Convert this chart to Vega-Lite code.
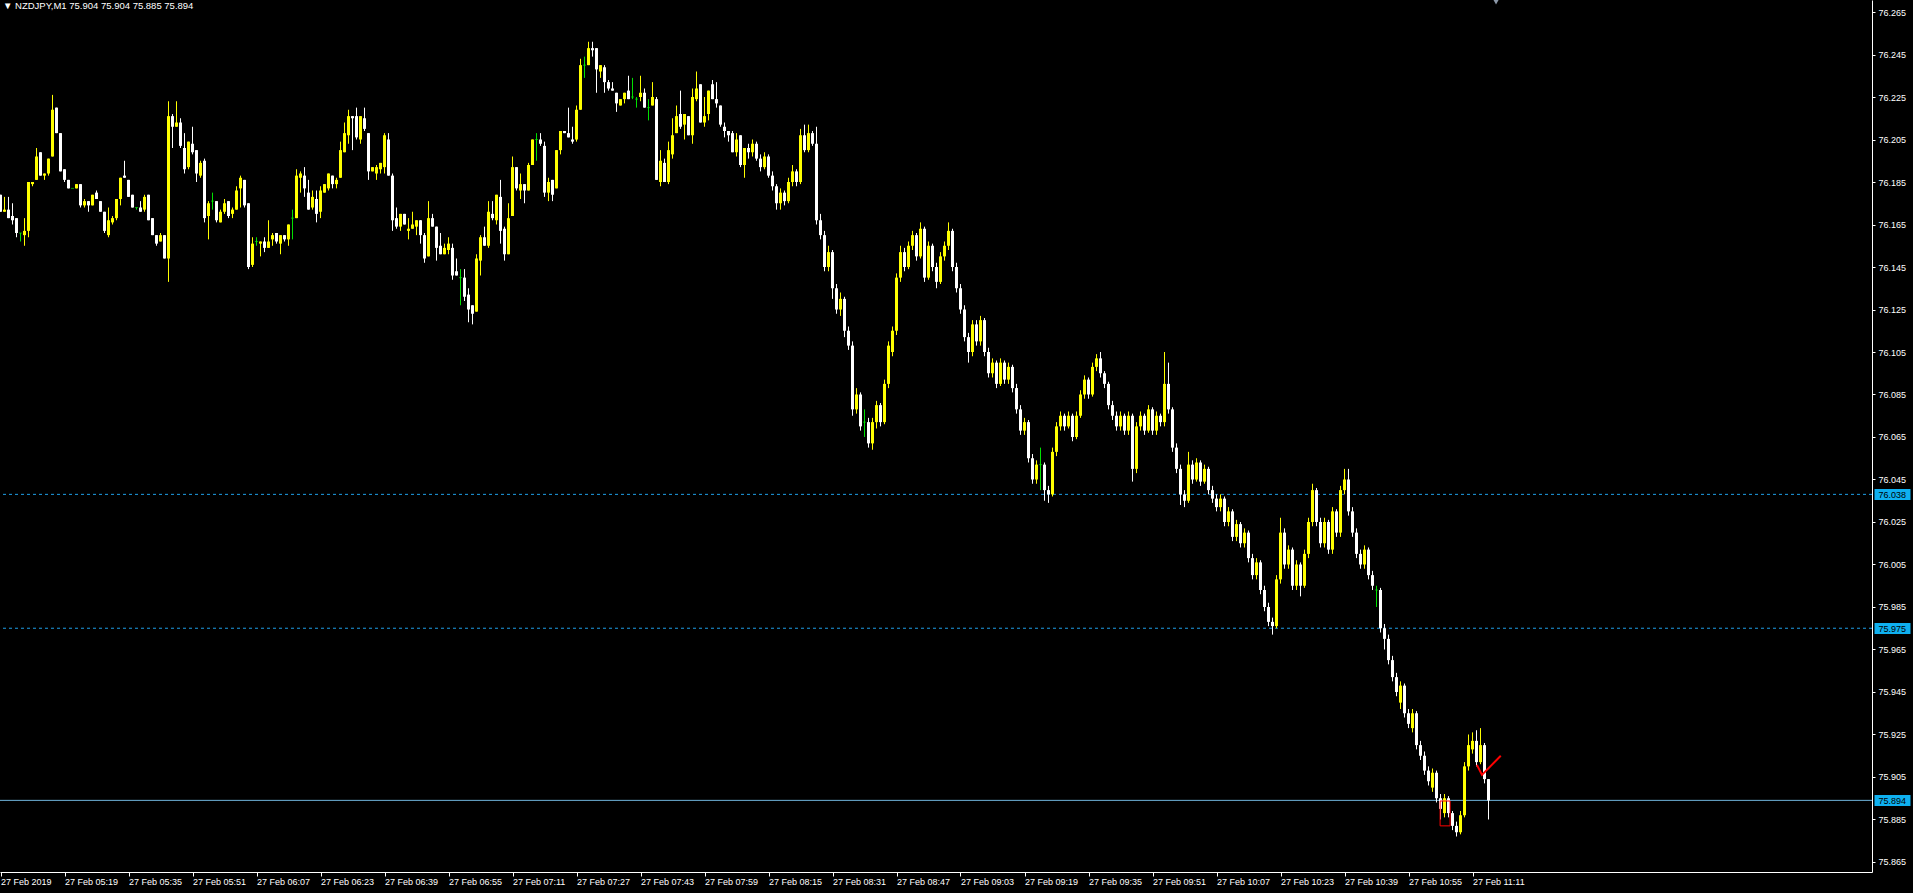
{
"$schema": "https://vega.github.io/schema/vega-lite/v6.json",
"width": 1872, "height": 872,
"autosize": {"type": "none"},
"padding": {"left": 0, "top": 0, "right": 41, "bottom": 21},
"background": "#000000",
"config": {"view": {"stroke": null, "fill": "#000000"}, "font": "Liberation Sans"},
"title": {"text": "▼ NZDJPY,M1  75.904 75.904 75.885 75.894", "anchor": "start", "frame": "group", "offset": -11, "dx": 3, "fontSize": 9.5, "fontWeight": "normal", "color": "#FFFFFF", "font": "Liberation Sans"},
"datasets": {
"levels": [{"p": 76.038, "style": "dash"}, {"p": 75.975, "style": "dash"}, {"p": 75.894, "style": "solid"}],
"box": [{"t": "11:02:54", "t2": "11:05:24", "p": 75.8937, "p2": 75.882}],
"check": [{"t": "11:12:06", "p": 75.9107, "k": 0}, {"t": "11:13:22", "p": 75.906, "k": 1}, {"t": "11:18:04", "p": 75.915, "k": 2}],
"marker": [{"t": "11:16:53", "p": 76.2697}],
"bars": [
{"t":"05:03","o":76.179,"h":76.179,"l":76.171,"c":76.171},
{"t":"05:04","o":76.171,"h":76.178,"l":76.171,"c":76.172},
{"t":"05:05","o":76.172,"h":76.178,"l":76.168,"c":76.168},
{"t":"05:06","o":76.169,"h":76.175,"l":76.165,"c":76.167},
{"t":"05:07","o":76.168,"h":76.168,"l":76.159,"c":76.161},
{"t":"05:08","o":76.161,"h":76.161,"l":76.157,"c":76.161},
{"t":"05:09","o":76.160,"h":76.168,"l":76.155,"c":76.162},
{"t":"05:10","o":76.162,"h":76.185,"l":76.159,"c":76.185},
{"t":"05:11","o":76.184,"h":76.185,"l":76.183,"c":76.185},
{"t":"05:12","o":76.186,"h":76.201,"l":76.186,"c":76.197},
{"t":"05:13","o":76.199,"h":76.199,"l":76.188,"c":76.188},
{"t":"05:14","o":76.188,"h":76.189,"l":76.186,"c":76.189},
{"t":"05:15","o":76.189,"h":76.196,"l":76.188,"c":76.196},
{"t":"05:16","o":76.197,"h":76.226,"l":76.197,"c":76.219},
{"t":"05:17","o":76.220,"h":76.220,"l":76.208,"c":76.208},
{"t":"05:18","o":76.208,"h":76.208,"l":76.190,"c":76.190},
{"t":"05:19","o":76.191,"h":76.191,"l":76.185,"c":76.186},
{"t":"05:20","o":76.186,"h":76.186,"l":76.182,"c":76.182},
{"t":"05:21","o":76.182,"h":76.182,"l":76.182,"c":76.182},
{"t":"05:22","o":76.182,"h":76.184,"l":76.182,"c":76.184},
{"t":"05:23","o":76.184,"h":76.184,"l":76.173,"c":76.174},
{"t":"05:24","o":76.174,"h":76.177,"l":76.173,"c":76.176},
{"t":"05:25","o":76.176,"h":76.176,"l":76.171,"c":76.174},
{"t":"05:26","o":76.174,"h":76.179,"l":76.174,"c":76.179},
{"t":"05:27","o":76.180,"h":76.181,"l":76.177,"c":76.177},
{"t":"05:28","o":76.176,"h":76.176,"l":76.171,"c":76.171},
{"t":"05:29","o":76.171,"h":76.171,"l":76.161,"c":76.162},
{"t":"05:30","o":76.160,"h":76.173,"l":76.159,"c":76.167},
{"t":"05:31","o":76.166,"h":76.169,"l":76.165,"c":76.168},
{"t":"05:32","o":76.168,"h":76.177,"l":76.167,"c":76.177},
{"t":"05:33","o":76.177,"h":76.187,"l":76.174,"c":76.187},
{"t":"05:34","o":76.188,"h":76.195,"l":76.187,"c":76.187},
{"t":"05:35","o":76.186,"h":76.186,"l":76.178,"c":76.178},
{"t":"05:36","o":76.179,"h":76.179,"l":76.173,"c":76.173},
{"t":"05:37","o":76.173,"h":76.173,"l":76.172,"c":76.173},
{"t":"05:38","o":76.173,"h":76.176,"l":76.171,"c":76.171},
{"t":"05:39","o":76.172,"h":76.179,"l":76.171,"c":76.178},
{"t":"05:40","o":76.179,"h":76.179,"l":76.167,"c":76.167},
{"t":"05:41","o":76.168,"h":76.168,"l":76.160,"c":76.160},
{"t":"05:42","o":76.160,"h":76.160,"l":76.155,"c":76.156},
{"t":"05:43","o":76.157,"h":76.161,"l":76.157,"c":76.160},
{"t":"05:44","o":76.160,"h":76.160,"l":76.149,"c":76.149},
{"t":"05:45","o":76.149,"h":76.223,"l":76.138,"c":76.216},
{"t":"05:46","o":76.216,"h":76.217,"l":76.201,"c":76.211},
{"t":"05:47","o":76.211,"h":76.223,"l":76.211,"c":76.213},
{"t":"05:48","o":76.213,"h":76.215,"l":76.201,"c":76.202},
{"t":"05:49","o":76.201,"h":76.208,"l":76.189,"c":76.191},
{"t":"05:50","o":76.192,"h":76.204,"l":76.191,"c":76.204},
{"t":"05:51","o":76.203,"h":76.211,"l":76.198,"c":76.199},
{"t":"05:52","o":76.200,"h":76.200,"l":76.185,"c":76.189},
{"t":"05:53","o":76.188,"h":76.195,"l":76.187,"c":76.194},
{"t":"05:54","o":76.195,"h":76.196,"l":76.166,"c":76.168},
{"t":"05:55","o":76.169,"h":76.176,"l":76.158,"c":76.175},
{"t":"05:56","o":76.176,"h":76.180,"l":76.172,"c":76.176},
{"t":"05:57","o":76.176,"h":76.176,"l":76.166,"c":76.167},
{"t":"05:58","o":76.166,"h":76.172,"l":76.166,"c":76.171},
{"t":"05:59","o":76.171,"h":76.177,"l":76.170,"c":76.175},
{"t":"06:00","o":76.176,"h":76.176,"l":76.168,"c":76.169},
{"t":"06:01","o":76.170,"h":76.173,"l":76.168,"c":76.172},
{"t":"06:02","o":76.172,"h":76.183,"l":76.172,"c":76.181},
{"t":"06:03","o":76.182,"h":76.188,"l":76.173,"c":76.187},
{"t":"06:04","o":76.186,"h":76.186,"l":76.173,"c":76.174},
{"t":"06:05","o":76.175,"h":76.175,"l":76.144,"c":76.145},
{"t":"06:06","o":76.146,"h":76.159,"l":76.145,"c":76.156},
{"t":"06:07","o":76.157,"h":76.159,"l":76.155,"c":76.157},
{"t":"06:08","o":76.156,"h":76.157,"l":76.150,"c":76.157},
{"t":"06:09","o":76.157,"h":76.159,"l":76.152,"c":76.154},
{"t":"06:10","o":76.154,"h":76.167,"l":76.154,"c":76.157},
{"t":"06:11","o":76.158,"h":76.161,"l":76.155,"c":76.160},
{"t":"06:12","o":76.161,"h":76.161,"l":76.156,"c":76.157},
{"t":"06:13","o":76.156,"h":76.160,"l":76.151,"c":76.160},
{"t":"06:14","o":76.160,"h":76.160,"l":76.157,"c":76.158},
{"t":"06:15","o":76.158,"h":76.165,"l":76.155,"c":76.165},
{"t":"06:16","o":76.168,"h":76.172,"l":76.158,"c":76.168},
{"t":"06:17","o":76.168,"h":76.191,"l":76.168,"c":76.188},
{"t":"06:18","o":76.187,"h":76.190,"l":76.180,"c":76.189},
{"t":"06:19","o":76.188,"h":76.192,"l":76.178,"c":76.182},
{"t":"06:20","o":76.180,"h":76.186,"l":76.172,"c":76.172},
{"t":"06:21","o":76.173,"h":76.181,"l":76.172,"c":76.178},
{"t":"06:22","o":76.177,"h":76.181,"l":76.166,"c":76.170},
{"t":"06:23","o":76.171,"h":76.183,"l":76.168,"c":76.181},
{"t":"06:24","o":76.180,"h":76.184,"l":76.180,"c":76.184},
{"t":"06:25","o":76.182,"h":76.189,"l":76.181,"c":76.189},
{"t":"06:26","o":76.188,"h":76.188,"l":76.182,"c":76.184},
{"t":"06:27","o":76.184,"h":76.187,"l":76.182,"c":76.186},
{"t":"06:28","o":76.187,"h":76.204,"l":76.187,"c":76.200},
{"t":"06:29","o":76.199,"h":76.213,"l":76.199,"c":76.208},
{"t":"06:30","o":76.207,"h":76.219,"l":76.203,"c":76.216},
{"t":"06:31","o":76.216,"h":76.216,"l":76.200,"c":76.215},
{"t":"06:32","o":76.216,"h":76.220,"l":76.205,"c":76.206},
{"t":"06:33","o":76.205,"h":76.216,"l":76.203,"c":76.216},
{"t":"06:34","o":76.215,"h":76.220,"l":76.209,"c":76.210},
{"t":"06:35","o":76.208,"h":76.208,"l":76.186,"c":76.190},
{"t":"06:36","o":76.190,"h":76.192,"l":76.190,"c":76.192},
{"t":"06:37","o":76.189,"h":76.193,"l":76.186,"c":76.192},
{"t":"06:38","o":76.191,"h":76.194,"l":76.189,"c":76.194},
{"t":"06:39","o":76.192,"h":76.208,"l":76.189,"c":76.207},
{"t":"06:40","o":76.205,"h":76.208,"l":76.188,"c":76.188},
{"t":"06:41","o":76.188,"h":76.189,"l":76.162,"c":76.167},
{"t":"06:42","o":76.168,"h":76.173,"l":76.163,"c":76.164},
{"t":"06:43","o":76.164,"h":76.170,"l":76.162,"c":76.170},
{"t":"06:44","o":76.170,"h":76.170,"l":76.165,"c":76.165},
{"t":"06:45","o":76.162,"h":76.168,"l":76.158,"c":76.163},
{"t":"06:46","o":76.163,"h":76.171,"l":76.163,"c":76.165},
{"t":"06:47","o":76.164,"h":76.167,"l":76.160,"c":76.167},
{"t":"06:48","o":76.167,"h":76.167,"l":76.156,"c":76.160},
{"t":"06:49","o":76.160,"h":76.161,"l":76.147,"c":76.149},
{"t":"06:50","o":76.150,"h":76.176,"l":76.150,"c":76.168},
{"t":"06:51","o":76.168,"h":76.170,"l":76.164,"c":76.164},
{"t":"06:52","o":76.164,"h":76.164,"l":76.148,"c":76.154},
{"t":"06:53","o":76.155,"h":76.161,"l":76.151,"c":76.151},
{"t":"06:54","o":76.151,"h":76.156,"l":76.151,"c":76.154},
{"t":"06:55","o":76.153,"h":76.159,"l":76.151,"c":76.156},
{"t":"06:56","o":76.154,"h":76.156,"l":76.139,"c":76.141},
{"t":"06:57","o":76.143,"h":76.149,"l":76.141,"c":76.141},
{"t":"06:58","o":76.140,"h":76.144,"l":76.127,"c":76.140},
{"t":"06:59","o":76.140,"h":76.144,"l":76.129,"c":76.131},
{"t":"07:00","o":76.132,"h":76.135,"l":76.119,"c":76.125},
{"t":"07:01","o":76.127,"h":76.127,"l":76.118,"c":76.123},
{"t":"07:02","o":76.124,"h":76.151,"l":76.124,"c":76.149},
{"t":"07:03","o":76.148,"h":76.160,"l":76.141,"c":76.159},
{"t":"07:04","o":76.159,"h":76.164,"l":76.155,"c":76.155},
{"t":"07:05","o":76.155,"h":76.176,"l":76.154,"c":76.171},
{"t":"07:06","o":76.170,"h":76.176,"l":76.167,"c":76.168},
{"t":"07:07","o":76.167,"h":76.179,"l":76.165,"c":76.179},
{"t":"07:08","o":76.178,"h":76.186,"l":76.156,"c":76.162},
{"t":"07:09","o":76.163,"h":76.164,"l":76.148,"c":76.151},
{"t":"07:10","o":76.151,"h":76.175,"l":76.151,"c":76.168},
{"t":"07:11","o":76.169,"h":76.197,"l":76.169,"c":76.192},
{"t":"07:12","o":76.192,"h":76.192,"l":76.181,"c":76.182},
{"t":"07:13","o":76.181,"h":76.189,"l":76.177,"c":76.184},
{"t":"07:14","o":76.184,"h":76.184,"l":76.175,"c":76.181},
{"t":"07:15","o":76.181,"h":76.194,"l":76.181,"c":76.193},
{"t":"07:16","o":76.193,"h":76.205,"l":76.193,"c":76.205},
{"t":"07:17","o":76.205,"h":76.208,"l":76.195,"c":76.205},
{"t":"07:18","o":76.205,"h":76.208,"l":76.202,"c":76.203},
{"t":"07:19","o":76.202,"h":76.204,"l":76.178,"c":76.180},
{"t":"07:20","o":76.180,"h":76.187,"l":76.176,"c":76.185},
{"t":"07:21","o":76.186,"h":76.186,"l":76.176,"c":76.179},
{"t":"07:22","o":76.182,"h":76.200,"l":76.182,"c":76.200},
{"t":"07:23","o":76.200,"h":76.209,"l":76.198,"c":76.209},
{"t":"07:24","o":76.209,"h":76.209,"l":76.208,"c":76.208},
{"t":"07:25","o":76.208,"h":76.220,"l":76.206,"c":76.206},
{"t":"07:26","o":76.205,"h":76.211,"l":76.203,"c":76.204},
{"t":"07:27","o":76.205,"h":76.221,"l":76.204,"c":76.219},
{"t":"07:28","o":76.219,"h":76.243,"l":76.219,"c":76.240},
{"t":"07:29","o":76.240,"h":76.244,"l":76.234,"c":76.240},
{"t":"07:30","o":76.240,"h":76.251,"l":76.240,"c":76.248},
{"t":"07:31","o":76.248,"h":76.251,"l":76.244,"c":76.247},
{"t":"07:32","o":76.248,"h":76.248,"l":76.227,"c":76.238},
{"t":"07:33","o":76.237,"h":76.240,"l":76.234,"c":76.240},
{"t":"07:34","o":76.239,"h":76.240,"l":76.227,"c":76.232},
{"t":"07:35","o":76.232,"h":76.233,"l":76.228,"c":76.229},
{"t":"07:36","o":76.229,"h":76.232,"l":76.228,"c":76.228},
{"t":"07:37","o":76.227,"h":76.227,"l":76.218,"c":76.222},
{"t":"07:38","o":76.221,"h":76.224,"l":76.221,"c":76.224},
{"t":"07:39","o":76.224,"h":76.227,"l":76.222,"c":76.227},
{"t":"07:40","o":76.228,"h":76.235,"l":76.224,"c":76.224},
{"t":"07:41","o":76.225,"h":76.234,"l":76.224,"c":76.225},
{"t":"07:42","o":76.224,"h":76.225,"l":76.220,"c":76.224},
{"t":"07:43","o":76.225,"h":76.235,"l":76.223,"c":76.227},
{"t":"07:44","o":76.227,"h":76.229,"l":76.220,"c":76.220},
{"t":"07:45","o":76.220,"h":76.224,"l":76.214,"c":76.220},
{"t":"07:46","o":76.221,"h":76.232,"l":76.221,"c":76.225},
{"t":"07:47","o":76.224,"h":76.225,"l":76.186,"c":76.186},
{"t":"07:48","o":76.185,"h":76.200,"l":76.183,"c":76.195},
{"t":"07:49","o":76.194,"h":76.196,"l":76.185,"c":76.185},
{"t":"07:50","o":76.185,"h":76.204,"l":76.184,"c":76.200},
{"t":"07:51","o":76.198,"h":76.215,"l":76.196,"c":76.207},
{"t":"07:52","o":76.208,"h":76.221,"l":76.208,"c":76.216},
{"t":"07:53","o":76.217,"h":76.228,"l":76.210,"c":76.211},
{"t":"07:54","o":76.212,"h":76.217,"l":76.205,"c":76.217},
{"t":"07:55","o":76.216,"h":76.216,"l":76.207,"c":76.207},
{"t":"07:56","o":76.207,"h":76.229,"l":76.203,"c":76.225},
{"t":"07:57","o":76.224,"h":76.237,"l":76.223,"c":76.229},
{"t":"07:58","o":76.231,"h":76.231,"l":76.213,"c":76.213},
{"t":"07:59","o":76.213,"h":76.225,"l":76.211,"c":76.216},
{"t":"08:00","o":76.217,"h":76.228,"l":76.214,"c":76.228},
{"t":"08:01","o":76.231,"h":76.233,"l":76.224,"c":76.224},
{"t":"08:02","o":76.224,"h":76.232,"l":76.220,"c":76.222},
{"t":"08:03","o":76.221,"h":76.221,"l":76.211,"c":76.212},
{"t":"08:04","o":76.211,"h":76.213,"l":76.206,"c":76.209},
{"t":"08:05","o":76.209,"h":76.209,"l":76.204,"c":76.207},
{"t":"08:06","o":76.208,"h":76.209,"l":76.199,"c":76.199},
{"t":"08:07","o":76.199,"h":76.208,"l":76.197,"c":76.205},
{"t":"08:08","o":76.207,"h":76.207,"l":76.192,"c":76.193},
{"t":"08:09","o":76.193,"h":76.201,"l":76.187,"c":76.201},
{"t":"08:10","o":76.201,"h":76.203,"l":76.196,"c":76.199},
{"t":"08:11","o":76.199,"h":76.205,"l":76.197,"c":76.203},
{"t":"08:12","o":76.203,"h":76.204,"l":76.195,"c":76.196},
{"t":"08:13","o":76.196,"h":76.198,"l":76.190,"c":76.192},
{"t":"08:14","o":76.192,"h":76.199,"l":76.191,"c":76.197},
{"t":"08:15","o":76.197,"h":76.198,"l":76.187,"c":76.188},
{"t":"08:16","o":76.188,"h":76.190,"l":76.181,"c":76.183},
{"t":"08:17","o":76.183,"h":76.184,"l":76.172,"c":76.175},
{"t":"08:18","o":76.175,"h":76.182,"l":76.172,"c":76.180},
{"t":"08:19","o":76.180,"h":76.181,"l":76.174,"c":76.176},
{"t":"08:20","o":76.176,"h":76.187,"l":76.175,"c":76.185},
{"t":"08:21","o":76.185,"h":76.193,"l":76.183,"c":76.190},
{"t":"08:22","o":76.190,"h":76.191,"l":76.183,"c":76.185},
{"t":"08:23","o":76.185,"h":76.210,"l":76.184,"c":76.207},
{"t":"08:24","o":76.207,"h":76.212,"l":76.199,"c":76.200},
{"t":"08:25","o":76.200,"h":76.212,"l":76.199,"c":76.208},
{"t":"08:26","o":76.208,"h":76.209,"l":76.202,"c":76.203},
{"t":"08:27","o":76.203,"h":76.211,"l":76.165,"c":76.167},
{"t":"08:28","o":76.167,"h":76.170,"l":76.158,"c":76.160},
{"t":"08:29","o":76.160,"h":76.162,"l":76.143,"c":76.145},
{"t":"08:30","o":76.145,"h":76.155,"l":76.143,"c":76.152},
{"t":"08:31","o":76.152,"h":76.153,"l":76.130,"c":76.135},
{"t":"08:32","o":76.135,"h":76.137,"l":76.123,"c":76.125},
{"t":"08:33","o":76.125,"h":76.133,"l":76.122,"c":76.130},
{"t":"08:34","o":76.130,"h":76.131,"l":76.112,"c":76.115},
{"t":"08:35","o":76.115,"h":76.117,"l":76.106,"c":76.108},
{"t":"08:36","o":76.108,"h":76.110,"l":76.075,"c":76.078},
{"t":"08:37","o":76.078,"h":76.088,"l":76.076,"c":76.085},
{"t":"08:38","o":76.085,"h":76.086,"l":76.068,"c":76.070},
{"t":"08:39","o":76.072,"h":76.078,"l":76.065,"c":76.072},
{"t":"08:40","o":76.072,"h":76.074,"l":76.060,"c":76.062},
{"t":"08:41","o":76.062,"h":76.074,"l":76.059,"c":76.072},
{"t":"08:42","o":76.072,"h":76.082,"l":76.069,"c":76.080},
{"t":"08:43","o":76.080,"h":76.081,"l":76.070,"c":76.072},
{"t":"08:44","o":76.072,"h":76.092,"l":76.071,"c":76.090},
{"t":"08:45","o":76.090,"h":76.110,"l":76.088,"c":76.108},
{"t":"08:46","o":76.105,"h":76.117,"l":76.103,"c":76.115},
{"t":"08:47","o":76.115,"h":76.142,"l":76.113,"c":76.140},
{"t":"08:48","o":76.140,"h":76.155,"l":76.138,"c":76.152},
{"t":"08:49","o":76.152,"h":76.154,"l":76.143,"c":76.145},
{"t":"08:50","o":76.145,"h":76.157,"l":76.144,"c":76.155},
{"t":"08:51","o":76.155,"h":76.162,"l":76.153,"c":76.160},
{"t":"08:52","o":76.160,"h":76.161,"l":76.148,"c":76.150},
{"t":"08:53","o":76.150,"h":76.166,"l":76.149,"c":76.163},
{"t":"08:54","o":76.163,"h":76.164,"l":76.138,"c":76.140},
{"t":"08:55","o":76.140,"h":76.157,"l":76.139,"c":76.155},
{"t":"08:56","o":76.155,"h":76.156,"l":76.143,"c":76.145},
{"t":"08:57","o":76.145,"h":76.147,"l":76.135,"c":76.138},
{"t":"08:58","o":76.138,"h":76.152,"l":76.137,"c":76.150},
{"t":"08:59","o":76.150,"h":76.157,"l":76.148,"c":76.155},
{"t":"09:00","o":76.155,"h":76.166,"l":76.153,"c":76.162},
{"t":"09:01","o":76.162,"h":76.163,"l":76.143,"c":76.145},
{"t":"09:02","o":76.145,"h":76.147,"l":76.133,"c":76.135},
{"t":"09:03","o":76.135,"h":76.137,"l":76.123,"c":76.125},
{"t":"09:04","o":76.125,"h":76.127,"l":76.110,"c":76.112},
{"t":"09:05","o":76.112,"h":76.114,"l":76.100,"c":76.105},
{"t":"09:06","o":76.105,"h":76.120,"l":76.103,"c":76.118},
{"t":"09:07","o":76.118,"h":76.120,"l":76.108,"c":76.110},
{"t":"09:08","o":76.110,"h":76.122,"l":76.108,"c":76.120},
{"t":"09:09","o":76.120,"h":76.121,"l":76.103,"c":76.105},
{"t":"09:10","o":76.105,"h":76.107,"l":76.093,"c":76.095},
{"t":"09:11","o":76.095,"h":76.102,"l":76.093,"c":76.100},
{"t":"09:12","o":76.100,"h":76.101,"l":76.088,"c":76.090},
{"t":"09:13","o":76.090,"h":76.102,"l":76.089,"c":76.100},
{"t":"09:14","o":76.100,"h":76.101,"l":76.090,"c":76.092},
{"t":"09:15","o":76.092,"h":76.100,"l":76.090,"c":76.098},
{"t":"09:16","o":76.098,"h":76.099,"l":76.086,"c":76.088},
{"t":"09:17","o":76.088,"h":76.090,"l":76.076,"c":76.078},
{"t":"09:18","o":76.078,"h":76.080,"l":76.066,"c":76.068},
{"t":"09:19","o":76.068,"h":76.074,"l":76.066,"c":76.072},
{"t":"09:20","o":76.072,"h":76.073,"l":76.053,"c":76.055},
{"t":"09:21","o":76.055,"h":76.057,"l":76.043,"c":76.045},
{"t":"09:22","o":76.045,"h":76.054,"l":76.043,"c":76.052},
{"t":"09:23","o":76.052,"h":76.060,"l":76.040,"c":76.052},
{"t":"09:24","o":76.052,"h":76.053,"l":76.035,"c":76.040},
{"t":"09:25","o":76.040,"h":76.042,"l":76.034,"c":76.038},
{"t":"09:26","o":76.038,"h":76.060,"l":76.037,"c":76.058},
{"t":"09:27","o":76.058,"h":76.072,"l":76.056,"c":76.070},
{"t":"09:28","o":76.070,"h":76.077,"l":76.068,"c":76.075},
{"t":"09:29","o":76.075,"h":76.076,"l":76.068,"c":76.070},
{"t":"09:30","o":76.070,"h":76.077,"l":76.069,"c":76.075},
{"t":"09:31","o":76.075,"h":76.076,"l":76.063,"c":76.065},
{"t":"09:32","o":76.065,"h":76.077,"l":76.064,"c":76.075},
{"t":"09:33","o":76.075,"h":76.087,"l":76.074,"c":76.085},
{"t":"09:34","o":76.085,"h":76.094,"l":76.083,"c":76.092},
{"t":"09:35","o":76.092,"h":76.093,"l":76.083,"c":76.085},
{"t":"09:36","o":76.085,"h":76.100,"l":76.084,"c":76.098},
{"t":"09:37","o":76.098,"h":76.104,"l":76.096,"c":76.102},
{"t":"09:38","o":76.102,"h":76.105,"l":76.093,"c":76.095},
{"t":"09:39","o":76.095,"h":76.096,"l":76.088,"c":76.090},
{"t":"09:40","o":76.090,"h":76.091,"l":76.078,"c":76.080},
{"t":"09:41","o":76.080,"h":76.082,"l":76.073,"c":76.075},
{"t":"09:42","o":76.075,"h":76.077,"l":76.068,"c":76.070},
{"t":"09:43","o":76.070,"h":76.077,"l":76.068,"c":76.075},
{"t":"09:44","o":76.075,"h":76.076,"l":76.066,"c":76.068},
{"t":"09:45","o":76.068,"h":76.077,"l":76.066,"c":76.075},
{"t":"09:46","o":76.075,"h":76.076,"l":76.044,"c":76.050},
{"t":"09:47","o":76.050,"h":76.072,"l":76.048,"c":76.070},
{"t":"09:48","o":76.070,"h":76.077,"l":76.068,"c":76.075},
{"t":"09:49","o":76.075,"h":76.076,"l":76.066,"c":76.068},
{"t":"09:50","o":76.068,"h":76.080,"l":76.067,"c":76.078},
{"t":"09:51","o":76.078,"h":76.079,"l":76.066,"c":76.068},
{"t":"09:52","o":76.068,"h":76.077,"l":76.066,"c":76.075},
{"t":"09:53","o":76.075,"h":76.076,"l":76.070,"c":76.072},
{"t":"09:54","o":76.072,"h":76.105,"l":76.070,"c":76.090},
{"t":"09:55","o":76.090,"h":76.100,"l":76.076,"c":76.078},
{"t":"09:56","o":76.078,"h":76.079,"l":76.058,"c":76.060},
{"t":"09:57","o":76.060,"h":76.062,"l":76.048,"c":76.050},
{"t":"09:58","o":76.050,"h":76.052,"l":76.033,"c":76.038},
{"t":"09:59","o":76.038,"h":76.040,"l":76.032,"c":76.035},
{"t":"10:00","o":76.035,"h":76.058,"l":76.034,"c":76.052},
{"t":"10:01","o":76.052,"h":76.054,"l":76.043,"c":76.045},
{"t":"10:02","o":76.045,"h":76.055,"l":76.044,"c":76.053},
{"t":"10:03","o":76.053,"h":76.054,"l":76.042,"c":76.044},
{"t":"10:04","o":76.044,"h":76.052,"l":76.043,"c":76.050},
{"t":"10:05","o":76.050,"h":76.051,"l":76.038,"c":76.040},
{"t":"10:06","o":76.040,"h":76.042,"l":76.034,"c":76.036},
{"t":"10:07","o":76.036,"h":76.038,"l":76.030,"c":76.032},
{"t":"10:08","o":76.032,"h":76.038,"l":76.030,"c":76.036},
{"t":"10:09","o":76.036,"h":76.037,"l":76.023,"c":76.025},
{"t":"10:10","o":76.025,"h":76.032,"l":76.023,"c":76.030},
{"t":"10:11","o":76.030,"h":76.031,"l":76.016,"c":76.018},
{"t":"10:12","o":76.018,"h":76.026,"l":76.016,"c":76.024},
{"t":"10:13","o":76.024,"h":76.025,"l":76.013,"c":76.015},
{"t":"10:14","o":76.015,"h":76.022,"l":76.013,"c":76.020},
{"t":"10:15","o":76.020,"h":76.021,"l":76.006,"c":76.008},
{"t":"10:16","o":76.008,"h":76.010,"l":75.998,"c":76.000},
{"t":"10:17","o":76.000,"h":76.008,"l":75.998,"c":76.006},
{"t":"10:18","o":76.006,"h":76.007,"l":75.991,"c":75.993},
{"t":"10:19","o":75.993,"h":75.995,"l":75.983,"c":75.985},
{"t":"10:20","o":75.985,"h":75.987,"l":75.976,"c":75.978},
{"t":"10:21","o":75.978,"h":75.980,"l":75.972,"c":75.976},
{"t":"10:22","o":75.976,"h":76.000,"l":75.975,"c":75.998},
{"t":"10:23","o":75.998,"h":76.027,"l":75.996,"c":76.020},
{"t":"10:24","o":76.020,"h":76.022,"l":76.003,"c":76.005},
{"t":"10:25","o":76.005,"h":76.014,"l":76.003,"c":76.012},
{"t":"10:26","o":76.012,"h":76.013,"l":75.993,"c":75.995},
{"t":"10:27","o":75.995,"h":76.007,"l":75.993,"c":76.005},
{"t":"10:28","o":76.005,"h":76.006,"l":75.990,"c":75.995},
{"t":"10:29","o":75.995,"h":76.012,"l":75.994,"c":76.010},
{"t":"10:30","o":76.010,"h":76.027,"l":76.008,"c":76.025},
{"t":"10:31","o":76.025,"h":76.043,"l":76.023,"c":76.040},
{"t":"10:32","o":76.040,"h":76.041,"l":76.023,"c":76.025},
{"t":"10:33","o":76.025,"h":76.027,"l":76.013,"c":76.015},
{"t":"10:34","o":76.015,"h":76.027,"l":76.013,"c":76.025},
{"t":"10:35","o":76.025,"h":76.026,"l":76.010,"c":76.012},
{"t":"10:36","o":76.012,"h":76.032,"l":76.010,"c":76.030},
{"t":"10:37","o":76.030,"h":76.031,"l":76.018,"c":76.020},
{"t":"10:38","o":76.020,"h":76.042,"l":76.018,"c":76.040},
{"t":"10:39","o":76.040,"h":76.050,"l":76.038,"c":76.045},
{"t":"10:40","o":76.045,"h":76.050,"l":76.028,"c":76.030},
{"t":"10:41","o":76.030,"h":76.032,"l":76.018,"c":76.020},
{"t":"10:42","o":76.020,"h":76.022,"l":76.008,"c":76.010},
{"t":"10:43","o":76.010,"h":76.012,"l":76.003,"c":76.005},
{"t":"10:44","o":76.005,"h":76.014,"l":76.003,"c":76.012},
{"t":"10:45","o":76.012,"h":76.013,"l":75.998,"c":76.000},
{"t":"10:46","o":76.000,"h":76.002,"l":75.993,"c":75.995},
{"t":"10:47","o":75.993,"h":75.995,"l":75.985,"c":75.993},
{"t":"10:48","o":75.993,"h":75.994,"l":75.973,"c":75.975},
{"t":"10:49","o":75.975,"h":75.977,"l":75.965,"c":75.970},
{"t":"10:50","o":75.970,"h":75.972,"l":75.958,"c":75.960},
{"t":"10:51","o":75.960,"h":75.962,"l":75.950,"c":75.952},
{"t":"10:52","o":75.952,"h":75.954,"l":75.943,"c":75.945},
{"t":"10:53","o":75.940,"h":75.950,"l":75.937,"c":75.948},
{"t":"10:54","o":75.948,"h":75.949,"l":75.933,"c":75.935},
{"t":"10:55","o":75.935,"h":75.937,"l":75.928,"c":75.930},
{"t":"10:56","o":75.928,"h":75.937,"l":75.926,"c":75.935},
{"t":"10:57","o":75.935,"h":75.936,"l":75.918,"c":75.920},
{"t":"10:58","o":75.920,"h":75.922,"l":75.913,"c":75.915},
{"t":"10:59","o":75.915,"h":75.917,"l":75.906,"c":75.908},
{"t":"11:00","o":75.908,"h":75.910,"l":75.901,"c":75.903},
{"t":"11:01","o":75.900,"h":75.909,"l":75.898,"c":75.907},
{"t":"11:02","o":75.907,"h":75.908,"l":75.893,"c":75.895},
{"t":"11:03","o":75.895,"h":75.897,"l":75.885,"c":75.890},
{"t":"11:04","o":75.888,"h":75.897,"l":75.886,"c":75.895},
{"t":"11:05","o":75.895,"h":75.896,"l":75.886,"c":75.888},
{"t":"11:06","o":75.888,"h":75.889,"l":75.880,"c":75.882},
{"t":"11:07","o":75.882,"h":75.884,"l":75.877,"c":75.879},
{"t":"11:08","o":75.879,"h":75.889,"l":75.878,"c":75.887},
{"t":"11:09","o":75.887,"h":75.912,"l":75.886,"c":75.910},
{"t":"11:10","o":75.910,"h":75.925,"l":75.908,"c":75.920},
{"t":"11:11","o":75.918,"h":75.926,"l":75.916,"c":75.922},
{"t":"11:12","o":75.922,"h":75.927,"l":75.910,"c":75.912},
{"t":"11:13","o":75.912,"h":75.928,"l":75.911,"c":75.920},
{"t":"11:14","o":75.920,"h":75.921,"l":75.902,"c":75.904},
{"t":"11:15","o":75.904,"h":75.904,"l":75.885,"c":75.894}
]},
"resolve": {"axis": {"y": "independent"}},
"layer": [
{
"data": {"name": "levels"},
"mark": {"type": "rule", "strokeWidth": 1},
"encoding": {
"y": {"field": "p", "type": "quantitative",
"scale": {"domain": [75.86029, 76.27065], "nice": false, "zero": false},
"axis": {"orient": "right", "values": [76.038, 75.975, 75.894], "format": ".3f", "offset": 2, "domain": false, "grid": false, "title": null, "tickSize": 36, "tickWidth": 11, "tickColor": "#0FB0F0", "labelColor": "#000000", "labelPadding": -32, "labelFontSize": 9, "labelFont": "Liberation Sans", "labelFlush": false, "labelOverlap": false, "zindex": 2}},
"color": {"field": "style", "type": "nominal", "scale": {"domain": ["dash", "solid"], "range": ["#1E9EE6", "#6FB3DA"]}, "legend": null},
"strokeDash": {"field": "style", "type": "nominal", "scale": {"domain": ["dash", "solid"], "range": [[3, 3], [1, 0]]}, "legend": null}
}
},
{
"data": {"name": "bars", "format": {"parse": {"t": "utc:'%H:%M'"}}},
"encoding": {
"x": {"field": "t", "type": "temporal",
"scale": {"type": "utc", "domain": [-2208970627500, -2208942547500], "padding": 0, "nice": false},
"axis": {"title": null, "grid": false, "values": [-2208970620000, -2208969660000, -2208968700000, -2208967740000, -2208966780000, -2208965820000, -2208964860000, -2208963900000, -2208962940000, -2208961980000, -2208961020000, -2208960060000, -2208959100000, -2208958140000, -2208957180000, -2208956220000, -2208955260000, -2208954300000, -2208953340000, -2208952380000, -2208951420000, -2208950460000, -2208949500000, -2208948540000],
"labelExpr": "utcFormat(datum.value, '%H:%M') == '05:03' ? '27 Feb 2019' : '27 Feb ' + utcFormat(datum.value, '%H:%M')",
"labelAlign": "left", "labelBaseline": "top", "labelPadding": 1, "labelFontSize": 9, "labelFont": "Liberation Sans", "labelColor": "#FFFFFF", "labelFlush": false, "labelOverlap": false,
"tickColor": "#FFFFFF", "tickSize": 4, "domainColor": "#FFFFFF", "domainWidth": 1}
}
},
"layer": [
{
"mark": {"type": "rule", "strokeWidth": 1},
"encoding": {
"y": {"field": "l", "type": "quantitative",
"axis": {"orient": "right", "title": null, "grid": false, "format": ".3f",
"values": [75.865, 75.885, 75.905, 75.925, 75.945, 75.965, 75.985, 76.005, 76.025, 76.045, 76.065, 76.085, 76.105, 76.125, 76.145, 76.165, 76.185, 76.205, 76.225, 76.245, 76.265],
"tickSize": 3, "tickColor": "#FFFFFF", "labelPadding": 3, "labelFontSize": 9, "labelFont": "Liberation Sans", "labelColor": "#FFFFFF", "domainColor": "#FFFFFF", "domainWidth": 1, "labelFlush": false, "labelOverlap": false}},
"y2": {"field": "h"},
"color": {"condition": [{"test": "datum.c == datum.o", "value": "#00E000"}, {"test": "datum.c > datum.o", "value": "#FFFF00"}], "value": "#FFFFFF"}
}
},
{
"mark": {"type": "bar", "width": 3},
"encoding": {
"y": {"field": "o", "type": "quantitative"},
"y2": {"field": "c"},
"color": {"condition": {"test": "datum.c > datum.o", "value": "#FFFF00"}, "value": "#FFFFFF"}
}
},
{
"transform": [{"filter": "datum.o == datum.c"}],
"mark": {"type": "tick", "orient": "horizontal", "size": 3, "thickness": 1, "color": "#00E000"},
"encoding": {
"y": {"field": "o", "type": "quantitative"}
}
},
{
"data": {"name": "box", "format": {"parse": {"t": "utc:'%H:%M:%S'", "t2": "utc:'%H:%M:%S'"}}},
"mark": {"type": "rect", "filled": false, "stroke": "#FF0000", "strokeWidth": 1},
"encoding": {
"x2": {"field": "t2"},
"y": {"field": "p", "type": "quantitative"},
"y2": {"field": "p2"}
}
},
{
"data": {"name": "check", "format": {"parse": {"t": "utc:'%H:%M:%S'"}}},
"mark": {"type": "line", "stroke": "#FF0000", "strokeWidth": 2},
"encoding": {
"y": {"field": "p", "type": "quantitative"},
"order": {"field": "k", "type": "quantitative"}
}
},
{
"data": {"name": "marker", "format": {"parse": {"t": "utc:'%H:%M:%S'"}}},
"mark": {"type": "point", "shape": "triangle-down", "filled": true, "size": 30, "color": "#8C98A8", "opacity": 1},
"encoding": {
"y": {"field": "p", "type": "quantitative"}
}
}
]
}
]
}
